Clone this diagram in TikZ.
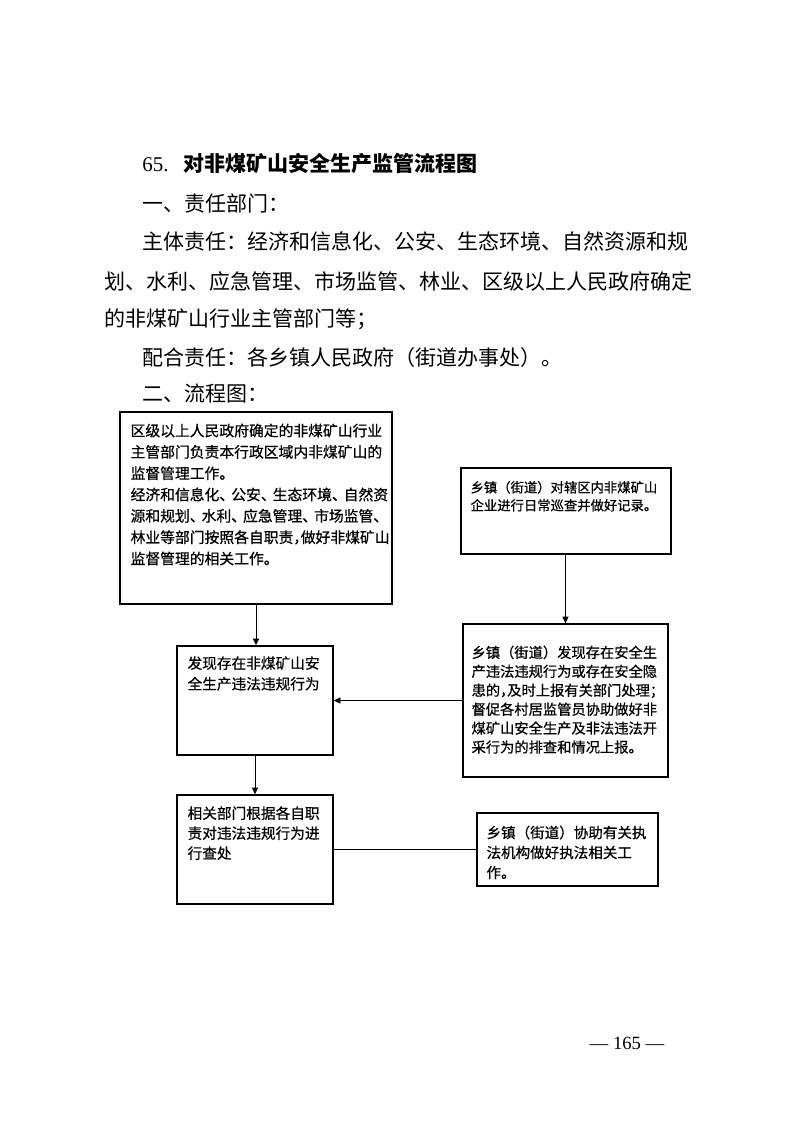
\documentclass[tikz,border=0pt]{standalone}
\usepackage{fontspec}
\setmainfont{Liberation Serif}
\newfontfamily\cjk{Noto Sans CJK SC}
\newfontfamily\cjkbox[FakeBold=0.6]{Noto Sans CJK SC}
\usetikzlibrary{arrows.meta}
\newcommand{\halfcomma}{\makebox[0.5em][l]{，}}
\newcommand{\dun}{\makebox[0.8em][l]{、}}
\begin{document}
\begin{tikzpicture}[x=0.75pt,y=-0.75pt,
  box/.style={draw,line width=1pt,inner sep=0pt},
  boxtext/.style={anchor=north west,inner sep=0pt,align=left},
  para/.style={anchor=base west,inner sep=0pt,font=\cjk\fontsize{15.75}{20}\selectfont},
  arr/.style={-{Triangle[length=5pt,width=4.5pt]},line width=0.7pt}]
  % page frame (px, y downwards)
  \useasboundingbox (0,0) rectangle (793,1122);
  % heading and text above the chart
  \node[para,font=\cjk\bfseries\fontsize{15.75}{20}\selectfont] (title) at (142,171) {{\rmfamily\mdseries 65.}\hspace{11pt}对非煤矿山安全生产监管流程图};
  \node[para] (dept) at (142,211) {一、责任部门：};
  \node[para] (main1) at (142,249) {主体责任：经济和信息化、公安、生态环境、自然资源和规};
  \node[para] (main2) at (104,289) {划、水利、应急管理、市场监管、林业、区级以上人民政府确定};
  \node[para] (main3) at (104,326) {的非煤矿山行业主管部门等；};
  \node[para] (coop) at (142,365) {配合责任：各乡镇人民政府（街道办事处）。};
  \node[para] (chart) at (142,401) {二、流程图：};
  % left column boxes
  \node[box,minimum width=204pt,minimum height=144pt] (b1) at (256,508) {};
  \node[boxtext,font=\cjkbox\fontsize{11.1}{16}\selectfont] (t1) at ([shift={(11,12)}]b1.north west)
    {区级以上人民政府确定的非煤矿山行业\\主管部门负责本行政区域内非煤矿山的\\监督管理工作。\\经济和信息化\dun 公安\dun 生态环境\dun 自然资\\源和规划\dun 水利\dun 应急管理\dun 市场监管\dun\\林业等部门按照各自职责\halfcomma 做好非煤矿山\\监督管理的相关工作。};
  \node[box,minimum width=117pt,minimum height=81.75pt] (b2) at (255,700.5) {};
  \node[boxtext,font=\cjkbox\fontsize{11}{15.5}\selectfont] (t2) at ([shift={(11,10.7)}]b2.north west)
    {发现存在非煤矿山安\\全生产违法违规行为};
  \node[box,minimum width=117pt,minimum height=81.75pt] (b3) at (255,849.5) {};
  \node[boxtext,font=\cjkbox\fontsize{11}{15}\selectfont] (t3) at ([shift={(11,11.7)}]b3.north west)
    {相关部门根据各自职\\责对违法违规行为进\\行查处};
  % right column boxes
  \node[box,minimum width=157.5pt,minimum height=64.5pt] (r1) at (566,511) {};
  \node[boxtext,font=\cjkbox\fontsize{10}{13.5}\selectfont] (s1) at ([shift={(10,13.4)}]r1.north west)
    {乡镇（街道）对辖区内非煤矿山\\企业进行日常巡查并做好记录。};
  \node[box,minimum width=153.75pt,minimum height=114.75pt] (r2) at (565.5,700.5) {};
  \node[boxtext,font=\cjkbox\fontsize{10.7}{14.2}\selectfont] (s2) at ([shift={(9,22)}]r2.north west)
    {乡镇（街道）发现存在安全生\\产违法违规行为或存在安全隐\\患的\halfcomma 及时上报有关部门处理；\\督促各村居监管员协助做好非\\煤矿山安全生产及非法违法开\\采行为的排查和情况上报。};
  \node[box,minimum width=135.75pt,minimum height=54.75pt] (r3) at (567.5,849.5) {};
  \node[boxtext,font=\cjkbox\fontsize{10.9}{15}\selectfont] (s3) at ([shift={(10,13)}]r3.north west)
    {乡镇（街道）协助有关执\\法机构做好执法相关工\\作。};
  % connectors
  \draw[arr] (b1.south) -- (b1.south |- b2.north);
  \draw[arr] (b2.south) -- (b3.north);
  \draw[arr] (r2.north |- r1.south) -- (r2.north);
  \draw[arr,line width=0.5pt] (r2.west) -- (b2.east);
  \draw[line width=0.5pt] (b3.east) -- (r3.west);
  % page number
  \node[anchor=base,font=\fontsize{14}{16}\selectfont] (pagenum) at (627,1049) {— 165 —};
\end{tikzpicture}
\end{document}
